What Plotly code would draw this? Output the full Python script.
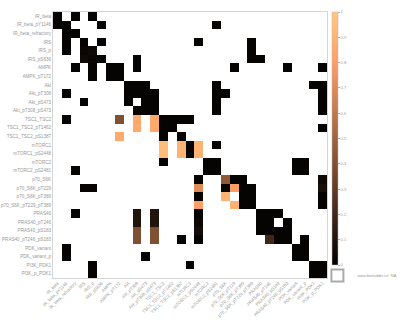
import plotly.graph_objects as go

labels = [
    "IR_beta", "IR_beta_pY1146", "IR_beta_refractory", "IRS", "IRS_p", "IRS_pS636",
    "AMPK", "AMPK_pT172", "Akt", "Akt_pT308", "Akt_pS473", "Akt_pT308_pS473",
    "TSC1_TSC2", "TSC1_TSC2_pT1462", "TSC1_TSC2_pS1387", "mTORC1", "mTORC1_pS2448",
    "mTORC2", "mTORC2_pS2481", "p70_S6K", "p70_S6K_pT229", "p70_S6K_pT389",
    "p70_S6K_pT229_pT389", "PRAS40", "PRAS40_pT246", "PRAS40_pS183",
    "PRAS40_pT246_pS183", "PDK_variant", "PDK_variant_p", "PI3K_PDK1", "PI3K_p_PDK1",
]

# non-empty cells: row index, column index (1-based) and value
cell_rows = (
    [1] * 3 + [2] * 4 + [3] * 2 + [4] * 5 + [5] * 4 + [6] * 6 + [7] * 8 + [8] * 3
    + [9] * 6 + [10] * 8 + [11] * 6 + [12] * 5 + [13] * 8 + [14] * 5 + [15] * 3
    + [16] * 5 + [17] * 4 + [18] * 5 + [19] * 5 + [20] * 5 + [21] * 8 + [22] * 5
    + [23] * 5 + [24] * 7 + [25] * 6 + [26] * 7 + [27] * 8 + [28] * 3 + [29] * 4
    + [30] * 4 + [31] * 3
)
cell_cols = [
    1, 3, 5,
    1, 2, 6, 19,
    2, 3,
    2, 4, 6, 17, 23,
    2, 4, 5, 23,
    4, 5, 6, 10, 23, 24,
    3, 5, 7, 8, 10, 21, 27, 31,
    5, 7, 8,
    9, 10, 11, 19, 30, 31,
    2, 9, 10, 11, 12, 19, 20, 31,
    4, 9, 11, 12, 19, 31,
    10, 11, 12, 19, 31,
    2, 8, 10, 12, 13, 14, 15, 16,
    10, 12, 13, 14, 31,
    8, 13, 15,
    13, 15, 16, 17, 19,
    13, 15, 16, 17,
    13, 18, 19, 28, 29,
    3, 18, 19, 28, 29,
    17, 20, 21, 22, 31,
    4, 5, 17, 20, 21, 22, 23, 31,
    17, 20, 22, 23, 31,
    17, 21, 22, 23, 31,
    3, 10, 12, 17, 24, 25, 26,
    10, 12, 17, 24, 25, 27,
    10, 12, 17, 24, 25, 26, 27,
    10, 12, 15, 17, 25, 26, 27, 29,
    2, 28, 29,
    2, 11, 28, 29,
    5, 16, 30, 31,
    5, 30, 31,
]
cell_vals = [
    0.02, 0.02, 0.02,
    0.02, 0.02, 0.02, 0.02,
    0.02, 0.02,
    0.02, 0.02, 0.02, 0.02, 0.02,
    0.02, 0.03, 0.05, 0.02,
    0.05, 0.03, 0.02, 0.02, 0.02, 0.02,
    0.02, 0.02, 0.02, 0.02, 0.02, 0.02, 0.02, 0.02,
    0.02, 0.02, 0.02,
    0.02, 0.02, 0.02, 0.02, 0.02, 0.02,
    0.02, 0.02, 0.02, 0.02, 0.02, 0.02, 0.02, 0.02,
    0.02, 0.02, 0.02, 0.02, 0.02, 0.02,
    0.02, 0.02, 0.02, 0.02, 0.02,
    0.02, 0.40, 0.85, 0.85, 0.02, 0.02, 0.02, 0.02,
    0.85, 0.85, 0.02, 0.02, 0.02,
    0.85, 0.02, 0.02,
    0.95, 0.90, 0.02, 0.90, 0.02,
    0.95, 0.90, 0.02, 0.90,
    0.02, 0.02, 0.02, 0.02, 0.02,
    0.02, 0.02, 0.02, 0.02, 0.02,
    0.02, 0.45, 0.02, 0.02, 0.05,
    0.02, 0.02, 0.70, 0.02, 0.80, 0.02, 0.02, 0.08,
    0.02, 0.90, 0.02, 0.02, 0.02,
    0.80, 0.90, 0.02, 0.02, 0.02,
    0.02, 0.10, 0.10, 0.02, 0.02, 0.02, 0.02,
    0.10, 0.10, 0.04, 0.02, 0.02, 0.02,
    0.40, 0.40, 0.06, 0.02, 0.02, 0.02, 0.02,
    0.40, 0.40, 0.02, 0.02, 0.20, 0.02, 0.02, 0.02,
    0.02, 0.02, 0.02,
    0.02, 0.02, 0.02, 0.02,
    0.02, 0.02, 0.02, 0.02,
    0.02, 0.02, 0.02,
]

colorbar_ticks = [0, 0.1, 0.2, 0.3, 0.4, 0.5, 0.6, 0.7, 0.8, 0.9, 1]
na_label = "www.bioladder.cn  NA"

n = len(labels)
z = [[None] * n for _ in range(n)]
for r, c, v in zip(cell_rows, cell_cols, cell_vals):
    z[r - 1][c - 1] = v

copper = [
    [0.0, "rgb(0,0,0)"],
    [0.2, "rgb(64,40,25)"],
    [0.4, "rgb(128,80,50)"],
    [0.6, "rgb(191,120,76)"],
    [0.8, "rgb(255,159,102)"],
    [1.0, "rgb(255,199,127)"],
]

FONT = "Arial, Liberation Sans, sans-serif"

fig = go.Figure()
fig.add_trace(go.Heatmap(
    z=z, x=labels, y=labels,
    colorscale=copper, zmin=0, zmax=1,
    hoverongaps=False,
    colorbar=dict(
        thickness=6, len=0.95, lenmode="fraction", y=1, yanchor="top",
        x=1.018, xanchor="left", xpad=0, ypad=0,
        outlinewidth=0.5, outlinecolor="#bbb",
        tickvals=colorbar_ticks, ticktext=[f"{t:g}" for t in colorbar_ticks],
        ticks="outside", ticklen=2, tickcolor="#aaa",
        tickfont=dict(size=4, color="#999", family=FONT),
    ),
    showlegend=False,
))
fig.add_trace(go.Scatter(
    x=[None], y=[None], mode="markers", name=na_label,
    marker=dict(symbol="square", size=8, color="white", line=dict(color="#aaa", width=1)),
    showlegend=True,
))

axis_common = dict(
    showgrid=False, zeroline=False, showline=True, linecolor="#d5d5d5", linewidth=1,
    mirror=True, ticks="", automargin=False,
)
fig.update_xaxes(tickangle=-45, type="category",
                 tickfont=dict(size=4.4, color="#999", family=FONT), **axis_common)
fig.update_yaxes(autorange="reversed", type="category",
                 tickfont=dict(size=4.6, color="#999", family=FONT), **axis_common)

fig.update_layout(
    width=414, height=325,
    margin=dict(l=53, r=87, t=12, b=47, pad=0),
    paper_bgcolor="white", plot_bgcolor="white",
    legend=dict(x=0.965, y=-0.045, xanchor="left", yanchor="bottom",
                font=dict(size=4, color="#999", family=FONT),
                bgcolor="rgba(0,0,0,0)", itemsizing="constant"),
)

fig.write_html("out.html", config={"displayModeBar": False},
               post_script="document.body.style.margin='0px';")
